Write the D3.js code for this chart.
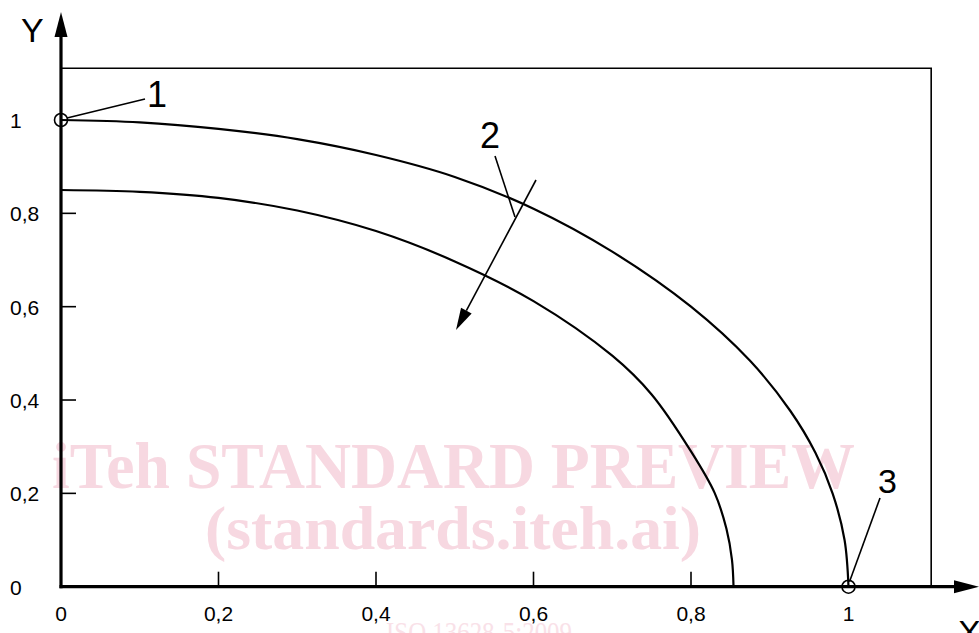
<!DOCTYPE html>
<html>
<head>
<meta charset="utf-8">
<script src="https://cdn.jsdelivr.net/npm/d3@7"></script>
<style>
  html, body { margin: 0; padding: 0; background: #fff; }
  svg { display: block; }
</style>
</head>
<body>
<svg id="chart" width="979" height="633"></svg>
<script>
// ---- data ----
const xTicks = [0, 0.2, 0.4, 0.6, 0.8, 1];
const xTickLabels = ["0", "0,2", "0,4", "0,6", "0,8", "1"];
const yTicks = [0, 0.2, 0.4, 0.6, 0.8, 1];
const yTickLabels = ["0", "0,2", "0,4", "0,6", "0,8", "1"];

const outerX = [0, 0.1, 0.2, 0.3, 0.4, 0.5, 0.6, 0.7, 0.8, 0.875, 0.926, 0.958, 0.98, 0.995, 1.0];
const outerY = [1.0, 0.995, 0.981, 0.959, 0.925, 0.878, 0.81, 0.718, 0.6, 0.484, 0.377, 0.287, 0.199, 0.1, 0.0];

const innerX = [0, 0.1, 0.2, 0.3, 0.4, 0.5, 0.6, 0.7, 0.75, 0.8, 0.83, 0.845, 0.852, 0.854];
const innerY = [0.85, 0.846, 0.833, 0.806, 0.762, 0.697, 0.612, 0.495, 0.412, 0.29, 0.201, 0.124, 0.058, 0.0];

const boxX = 1.105, boxY = 1.111;

const callouts = ["1", "2", "3"];
const watermark = ["iTeh STANDARD PREVIEW", "(standards.iteh.ai)", "ISO 13628-5:2009"];

// ---- drawing ----
const svg = d3.select("#chart");
const x = d3.scaleLinear().domain([0, 1]).range([61, 848.5]);
const y = d3.scaleLinear().domain([0, 1]).range([586.7, 120]);
const font = "'Liberation Sans', Arial, sans-serif";

// watermark (behind)
svg.append("text").attr("x", 52).attr("y", 488)
  .attr("textLength", 803).attr("lengthAdjust", "spacingAndGlyphs")
  .attr("font-family", "'Liberation Serif', 'Times New Roman', serif").attr("font-weight", "bold")
  .attr("font-size", 66).attr("fill", "#f7d8e1").text(watermark[0]);
svg.append("text").attr("x", 205).attr("y", 549)
  .attr("textLength", 496).attr("lengthAdjust", "spacingAndGlyphs")
  .attr("font-family", "'Liberation Serif', 'Times New Roman', serif").attr("font-weight", "bold")
  .attr("font-size", 62).attr("fill", "#f7d8e1").text(watermark[1]);
svg.append("text").attr("x", 386).attr("y", 642)
  .attr("textLength", 186).attr("lengthAdjust", "spacingAndGlyphs")
  .attr("font-family", "'Liberation Serif', 'Times New Roman', serif")
  .attr("font-size", 30).attr("fill", "#f9e1e8").text(watermark[2]);

// frame box
svg.append("path")
  .attr("d", `M${x(0)},${y(boxY)} H${x(boxX)} V${y(0)}`)
  .attr("fill", "none").attr("stroke", "#000").attr("stroke-width", 1.6);

// curves
const line = d3.line().x(d => x(d[0])).y(d => y(d[1])).curve(d3.curveCatmullRom.alpha(0.5));
const outer = outerX.map((v, i) => [v, outerY[i]]);
const inner = innerX.map((v, i) => [v, innerY[i]]);
svg.append("path").attr("d", line(outer)).attr("fill", "none").attr("stroke", "#000").attr("stroke-width", 2.2);
svg.append("path").attr("d", line(inner)).attr("fill", "none").attr("stroke", "#000").attr("stroke-width", 2.2);

// x ticks (upward)
svg.selectAll(".xt").data(xTicks.slice(1, -1)).join("line")
  .attr("x1", d => x(d)).attr("x2", d => x(d))
  .attr("y1", y(0)).attr("y2", y(0) - 15)
  .attr("stroke", "#000").attr("stroke-width", 1.6);
svg.selectAll(".xl").data(xTicks).join("text")
  .attr("x", d => x(d)).attr("y", 621)
  .attr("text-anchor", "middle").attr("font-family", font).attr("font-size", 21)
  .text((d, i) => xTickLabels[i]);

// y ticks (rightward)
svg.selectAll(".yt").data(yTicks.slice(1, -1)).join("line")
  .attr("x1", x(0)).attr("x2", x(0) + 15)
  .attr("y1", d => y(d)).attr("y2", d => y(d))
  .attr("stroke", "#000").attr("stroke-width", 1.6);
svg.selectAll(".yl").data(yTicks).join("text")
  .attr("x", 10).attr("y", d => y(d) + 8)
  .attr("text-anchor", "start").attr("font-family", font).attr("font-size", 21)
  .text((d, i) => yTickLabels[i]);

// axes with arrows
svg.append("line").attr("x1", x(0)).attr("x2", x(0)).attr("y1", y(0) + 1.5).attr("y2", 30)
  .attr("stroke", "#000").attr("stroke-width", 3.2);
svg.append("path").attr("d", `M${x(0)},12 L${x(0) - 6.5},37 L${x(0) + 6.5},37 Z`).attr("fill", "#000");
svg.append("line").attr("x1", x(0) - 1.5).attr("x2", 962).attr("y1", y(0)).attr("y2", y(0))
  .attr("stroke", "#000").attr("stroke-width", 3.2);
svg.append("path").attr("d", `M979,${y(0)} L954,${y(0) - 6.5} L954,${y(0) + 6.5} Z`).attr("fill", "#000");

svg.append("text").attr("x", 21).attr("y", 42).attr("font-family", font).attr("font-size", 34).text("Y");
svg.append("text").attr("x", 958).attr("y", 644).attr("font-family", font).attr("font-size", 34).text("X");

// marker circles
svg.selectAll(".mk").data([[0, 1], [1, 0]]).join("circle")
  .attr("cx", d => x(d[0])).attr("cy", d => y(d[1])).attr("r", 6.5)
  .attr("fill", "none").attr("stroke", "#000").attr("stroke-width", 1.6);

// callout 1
svg.append("line").attr("x1", x(0) + 6).attr("y1", y(1) - 2).attr("x2", 145).attr("y2", 99)
  .attr("stroke", "#000").attr("stroke-width", 1.6);
svg.append("text").attr("x", 147).attr("y", 107).attr("font-family", font).attr("font-size", 36).text(callouts[0]);

// callout 2 with direction arrow
svg.append("line").attr("x1", 495).attr("y1", 156).attr("x2", 515).attr("y2", 217)
  .attr("stroke", "#000").attr("stroke-width", 1.6);
svg.append("text").attr("x", 480).attr("y", 148).attr("font-family", font).attr("font-size", 36).text(callouts[1]);
const a0 = [536, 180], a1 = [456, 330];
const ang = Math.atan2(a1[1] - a0[1], a1[0] - a0[0]);
const L = 22, W = 6;
const bx = a1[0] - L * Math.cos(ang), by = a1[1] - L * Math.sin(ang);
svg.append("line").attr("x1", a0[0]).attr("y1", a0[1]).attr("x2", bx).attr("y2", by)
  .attr("stroke", "#000").attr("stroke-width", 1.6);
svg.append("path").attr("d",
  `M${a1[0]},${a1[1]} L${bx + W * Math.sin(ang)},${by - W * Math.cos(ang)} L${bx - W * Math.sin(ang)},${by + W * Math.cos(ang)} Z`)
  .attr("fill", "#000");

// callout 3
svg.append("line").attr("x1", 880).attr("y1", 498).attr("x2", x(1) + 1).attr("y2", y(0) - 5)
  .attr("stroke", "#000").attr("stroke-width", 1.6);
svg.append("text").attr("x", 878).attr("y", 493).attr("font-family", font).attr("font-size", 34).text(callouts[2]);
</script>
</body>
</html>
